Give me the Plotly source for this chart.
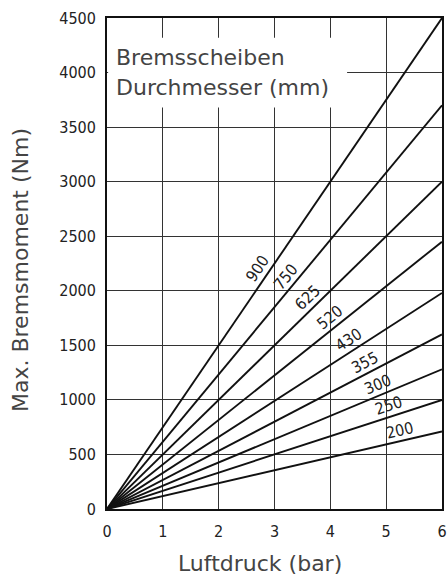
import math
import plotly.graph_objects as go

# Data
diameters = ["900", "750", "625", "520", "430", "355", "300", "250", "200"]
pressure_end = 6
torque_at_6bar = [4500, 3700, 3000, 2450, 1980, 1600, 1280, 1000, 710]
label_x = [2.86, 3.34, 3.73, 4.11, 4.44, 4.71, 4.92, 5.10, 5.28]
x_ticks = [0, 1, 2, 3, 4, 5, 6]
y_ticks = [0, 500, 1000, 1500, 2000, 2500, 3000, 3500, 4000, 4500]

W, H = 447, 577
ML, MT, MR, MB = 107, 18, 5, 68
pw, ph = W - ML - MR, H - MT - MB
xr, yr = [0, 6], [0, 4500]
sx = pw / (xr[1] - xr[0])
sy = ph / (yr[1] - yr[0])

cond = "DejaVu Sans Condensed, Liberation Sans Narrow, DejaVu Sans"
tick_font = dict(family=cond, size=16, color="#222")
label_font = dict(family=cond, size=16, color="#222")
text_font = dict(family="DejaVu Sans, Noto Sans", size=22, color="#444")


def paper_x(px):
    return (px - ML) / pw


def paper_y(py):
    return (H - MB - py) / ph


fig = go.Figure()
for d, v in zip(diameters, torque_at_6bar):
    fig.add_trace(go.Scatter(x=[0, pressure_end], y=[0, v], mode="lines",
                             line=dict(color="#111", width=1.9), name=d,
                             showlegend=False, hoverinfo="skip"))

annotations = []
for d, v, lx in zip(diameters, torque_at_6bar, label_x):
    slope = v / pressure_end
    ang = math.degrees(math.atan2(slope * sy, sx))
    ly = slope * lx
    off = 11
    a = math.radians(ang)
    annotations.append(dict(x=lx, y=ly, xref="x", yref="y", text=d, showarrow=False,
                            textangle=-ang, font=label_font,
                            xshift=-off * math.sin(a), yshift=off * math.cos(a)))

annotations.append(dict(x=0, y=4134, xref="x", yref="y", text="Bremsscheiben", showarrow=False,
                        xanchor="left", yanchor="middle", xshift=7, font=text_font))
annotations.append(dict(x=0, y=3860, xref="x", yref="y", text="Durchmesser (mm)", showarrow=False,
                        xanchor="left", yanchor="middle", xshift=7, font=text_font))
annotations.append(dict(x=paper_x(260), y=paper_y(563), xref="paper", yref="paper",
                        text="Luftdruck (bar)", showarrow=False,
                        xanchor="center", yanchor="middle", font=text_font))
annotations.append(dict(x=paper_x(20), y=paper_y(270), xref="paper", yref="paper",
                        text="Max. Bremsmoment (Nm)", showarrow=False,
                        xanchor="center", yanchor="middle", textangle=-90, font=text_font))

fig.update_layout(
    width=W, height=H,
    margin=dict(l=ML, r=MR, t=MT, b=MB),
    paper_bgcolor="white", plot_bgcolor="white",
    annotations=annotations,
    shapes=[dict(type="rect", xref="x", yref="y", x0=0.02, x1=4.3, y0=3680, y1=4320,
                 fillcolor="white", line=dict(width=0), layer="between")],
    xaxis=dict(range=xr, tickvals=x_ticks, ticktext=[str(t) for t in x_ticks],
               showgrid=True, gridcolor="#333", gridwidth=1.2,
               showline=True, linecolor="#111", linewidth=1.8, mirror=True,
               ticks="outside", ticklen=7, tickcolor="white", tickfont=tick_font,
               zeroline=False, automargin=False),
    yaxis=dict(range=yr, tickvals=y_ticks, ticktext=[str(t) for t in y_ticks],
               showgrid=True, gridcolor="#333", gridwidth=1.2,
               showline=True, linecolor="#111", linewidth=1.8, mirror=True,
               ticks="outside", ticklen=6, tickcolor="white", tickfont=tick_font,
               zeroline=False, automargin=False),
)

fig.write_html("out.html", config={"displayModeBar": False},
               post_script="document.body.style.margin='0';document.body.style.overflow='hidden';")
